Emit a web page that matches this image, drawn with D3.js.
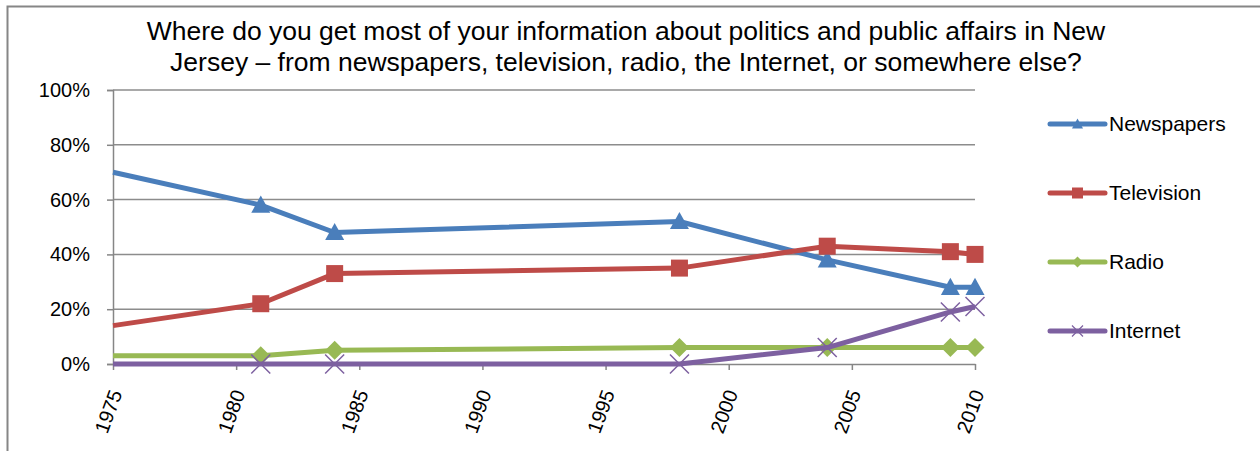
<!DOCTYPE html>
<html><head><meta charset="utf-8">
<script src="https://cdn.jsdelivr.net/npm/d3@7"></script>
<style>
html,body{margin:0;padding:0;background:#fff;}
svg{display:block;font-family:"Liberation Sans",Arial,sans-serif;}
</style></head>
<body>
<svg id="chart" width="1260" height="451"></svg>
<script>
const years = [1975, 1981, 1984, 1998, 2004, 2009, 2010];
const newspapers = [70, 58, 48, 52, 38, 28, 28];
const television = [14, 22, 33, 35, 43, 41, 40];
const radio = [3, 3, 5, 6, 6, 6, 6];
const internet = [0, 0, 0, 0, 6, 19, 21];
const seriesNames = ["Newspapers", "Television", "Radio", "Internet"];
const seriesColors = ["#4A7EBB", "#BE4B48", "#98B954", "#7D60A0"];
const seriesMarkers = ["triangle", "square", "diamond", "cross"];
const xTicks = [1975, 1980, 1985, 1990, 1995, 2000, 2005, 2010];
const yTicks = [0, 20, 40, 60, 80, 100];
const titleLines = ["Where do you get most of your information about politics and public affairs in New",
  "Jersey \u2013 from newspapers, television, radio, the Internet, or somewhere else?"];

const seriesValues = [newspapers, television, radio, internet];
const series = seriesNames.map((n, i) => ({
  name: n, color: seriesColors[i], marker: seriesMarkers[i],
  values: years.map((y, j) => ({year: y, v: seriesValues[i][j]}))
}));

const svg = d3.select("#chart");
// outer chart border
svg.append("path").attr("d", "M7.5,451 L7.5,6.5 L1260,6.5")
  .attr("fill", "none").attr("stroke", "#868686").attr("stroke-width", 2);

// title
svg.append("g").selectAll("text").data(titleLines).join("text")
  .attr("x", 626).attr("y", (d, i) => 40 + i * 31)
  .attr("text-anchor", "middle").attr("font-size", 26.5).attr("fill", "#000")
  .text(d => d);

const x = d3.scaleLinear().domain([1975, 2010]).range([113, 975]);
const y = d3.scaleLinear().domain([0, 100]).range([364, 90]);

// gridlines
svg.append("g").selectAll("line").data(yTicks.filter(t => t > 0)).join("line")
  .attr("x1", 113).attr("x2", 975).attr("y1", d => y(d)).attr("y2", d => y(d))
  .attr("stroke", "#8C8C8C").attr("stroke-width", 1.5);

// y axis
const yAxis = svg.append("g").attr("transform", "translate(113,0)")
  .call(d3.axisLeft(y).tickValues(yTicks).tickFormat(d => d + "%").tickSize(6).tickPadding(17));
yAxis.select(".domain").attr("stroke", "#868686").attr("stroke-width", 1.5);
yAxis.selectAll(".tick line").attr("stroke", "#868686").attr("stroke-width", 1.5);
yAxis.selectAll(".tick text").attr("font-size", 20).attr("fill", "#000")
  .attr("font-family", "Liberation Sans, Arial, sans-serif");

// x axis
const xAxis = svg.append("g").attr("transform", "translate(0,364)")
  .call(d3.axisBottom(x).tickValues(xTicks).tickFormat(d3.format("d")).tickSize(6).tickSizeOuter(0));
xAxis.select(".domain").attr("stroke", "#868686").attr("stroke-width", 1.5);
xAxis.selectAll(".tick line").attr("stroke", "#868686").attr("stroke-width", 1.5);
xAxis.selectAll(".tick text").attr("font-size", 20).attr("fill", "#000")
  .attr("font-family", "Liberation Sans, Arial, sans-serif")
  .attr("text-anchor", "end").attr("y", 0).attr("dy", 0)
  .attr("transform", "translate(9,29) rotate(-70)");

function markerPath(type, s) {
  const h = s / 2;
  if (type === "triangle") return `M0,${-h} L${h},${h*0.8} L${-h},${h*0.8} Z`;
  if (type === "square") return `M${-h},${-h} H${h} V${h} H${-h} Z`;
  if (type === "diamond") return `M0,${-h} L${h},0 L0,${h} L${-h},0 Z`;
  return `M${-h},${-h} L${h},${h} M${h},${-h} L${-h},${h}`;
}

const line = d3.line().x(d => x(d.year)).y(d => y(d.v));
const gSeries = svg.append("g").selectAll("g").data(series).join("g");
gSeries.append("path").attr("d", d => line(d.values))
  .attr("fill", "none").attr("stroke", d => d.color).attr("stroke-width", 5)
  .attr("stroke-linejoin", "round");
gSeries.each(function(s) {
  d3.select(this).selectAll("path.m").data(s.values.filter(d => d.year > 1975)).join("path")
    .attr("class", "m")
    .attr("transform", d => `translate(${x(d.year)},${y(d.v)})`)
    .attr("d", markerPath(s.marker, s.marker === "square" ? 17 : 19))
    .attr("fill", s.marker === "cross" ? "none" : s.color)
    .attr("stroke", s.color).attr("stroke-width", s.marker === "cross" ? 1.5 : 0);
});

// legend
const leg = svg.append("g").selectAll("g").data(series).join("g")
  .attr("transform", (d, i) => `translate(1050,${124 + i * 69})`);
leg.append("line").attr("x1", 0).attr("x2", 55).attr("y1", 0).attr("y2", 0)
  .attr("stroke", d => d.color).attr("stroke-width", 5).attr("stroke-linecap", "round");
leg.append("path").attr("transform", "translate(27.5,0)")
  .attr("d", d => markerPath(d.marker, 11))
  .attr("fill", d => d.marker === "cross" ? "none" : d.color)
  .attr("stroke", d => d.color).attr("stroke-width", d => d.marker === "cross" ? 1.2 : 0);
leg.append("text").attr("x", 59).attr("y", 7).attr("font-size", 21).attr("fill", "#000")
  .text(d => d.name);
</script>
</body></html>
